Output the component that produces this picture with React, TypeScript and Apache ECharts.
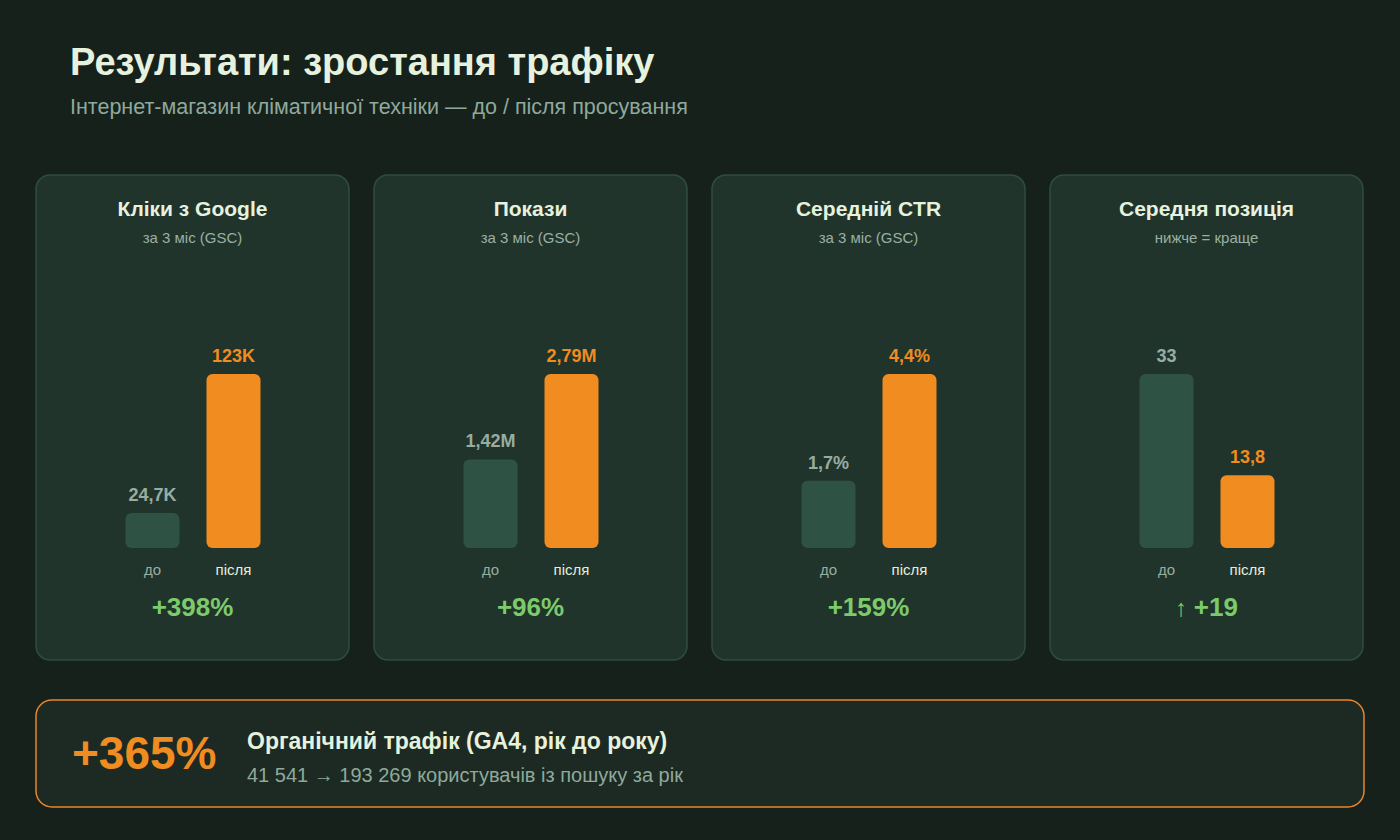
import React, { useEffect, useRef } from "react";
import * as echarts from "echarts";

const categories = ["до", "після"];
const cardTitles = ["Кліки з Google", "Покази", "Середній CTR", "Середня позиція"];
const cardSubtitles = ["за 3 міс (GSC)", "за 3 міс (GSC)", "за 3 міс (GSC)", "нижче = краще"];
const clicksK = [24.7, 123];
const impressionsM = [1.42, 2.79];
const ctrPct = [1.7, 4.4];
const avgPosition = [33, 13.8];
const seriesValues = [clicksK, impressionsM, ctrPct, avgPosition];
const valueLabels = [
  ["24,7K", "123K"],
  ["1,42M", "2,79M"],
  ["1,7%", "4,4%"],
  ["33", "13,8"],
];
const changeLabels = ["+398%", "+96%", "+159%", "+19"];

const FONT = "'Liberation Sans', Arial, sans-serif";
const BG = "#16211c";
const CARD_BG = "#21342b";
const CARD_BORDER = "#2f4c40";
const BEFORE = "#2e5244";
const AFTER = "#f08c20";
const GREEN = "#7ccb6a";

export default function App() {
  const ref = useRef<HTMLDivElement>(null);
  useEffect(() => {
    document.body.style.margin = "0";
    const chart = echarts.init(ref.current!, null, { renderer: "svg" });
    const cardX = [36, 374, 712, 1050];
    const cardW = 313;
    const grids: any[] = [];
    const xAxes: any[] = [];
    const yAxes: any[] = [];
    const series: any[] = [];
    const graphics: any[] = [
      { type: "rect", z: -10, shape: { x: 0, y: 0, width: 1400, height: 840 }, style: { fill: BG } },
      {
        type: "text", x: 70, y: 62,
        style: { text: "Результати: зростання трафіку", font: `bold 38px ${FONT}`, fill: "#e6f2de", textVerticalAlign: "middle" },
      },
      {
        type: "text", x: 70, y: 107,
        style: { text: "Інтернет-магазин кліматичної техніки — до / після просування", font: `21.5px ${FONT}`, fill: "#8fa99b", textVerticalAlign: "middle" },
      },
      {
        type: "rect", z: -5, shape: { x: 36, y: 700, width: 1328, height: 107, r: 16 },
        style: { fill: "#1c2a23", stroke: "#e8862a", lineWidth: 1.5 },
      },
      {
        type: "text", x: 72, y: 753,
        style: { text: "+365%", font: `bold 46px ${FONT}`, fill: AFTER, textVerticalAlign: "middle" },
      },
      {
        type: "text", x: 247, y: 741,
        style: { text: "Органічний трафік (GA4, рік до року)", font: `bold 23px ${FONT}`, fill: "#e6f2de", textVerticalAlign: "middle" },
      },
      {
        type: "text", x: 247, y: 775,
        style: { text: "41 541 → 193 269 користувачів із пошуку за рік", font: `20px ${FONT}`, fill: "#8fa99b", textVerticalAlign: "middle" },
      },
    ];

    cardX.forEach((cx, i) => {
      graphics.push({
        type: "rect", z: -5, shape: { x: cx, y: 175, width: cardW, height: 485, r: 14 },
        style: { fill: CARD_BG, stroke: CARD_BORDER, lineWidth: 1.5 },
      });
      graphics.push({
        type: "text", x: cx + cardW / 2, y: 208,
        style: { text: cardTitles[i], font: `bold 21px ${FONT}`, fill: "#e6f2de", textAlign: "center", textVerticalAlign: "middle" },
      });
      graphics.push({
        type: "text", x: cx + cardW / 2, y: 237,
        style: { text: cardSubtitles[i], font: `15px ${FONT}`, fill: "#9ab0a4", textAlign: "center", textVerticalAlign: "middle" },
      });
      const isPos = i === 3;
      graphics.push({
        type: "text", x: cx + cardW / 2, y: 607,
        style: {
          text: isPos ? `{a|↑}  {b|${changeLabels[i]}}` : `{b|${changeLabels[i]}}`,
          textAlign: "center", textVerticalAlign: "middle",
          rich: {
            a: { font: `24px ${FONT}`, fill: GREEN, fontSize: 24, color: GREEN },
            b: { font: `bold 26px ${FONT}`, fill: GREEN, fontSize: 26, fontWeight: "bold", color: GREEN },
          },
        },
      });

      grids.push({ left: cx + 76, top: 374, width: 162, height: 174 });
      xAxes.push({
        type: "category", gridIndex: i, data: categories,
        axisLine: { show: false }, axisTick: { show: false },
        axisLabel: {
          margin: 14, fontSize: 15, fontFamily: FONT,
          color: (v: string) => (v === "до" ? "#97ada1" : "#e2eedc"),
        },
      });
      const vals = seriesValues[i];
      yAxes.push({ type: "value", gridIndex: i, min: 0, max: Math.max(...vals), show: false, splitLine: { show: false } });
      series.push({
        type: "bar", xAxisIndex: i, yAxisIndex: i, barWidth: 54,
        data: vals.map((v, j) => ({
          value: v,
          itemStyle: { color: j === 0 ? BEFORE : AFTER, borderRadius: 6 },
          label: {
            show: true, position: "top", distance: 9,
            formatter: valueLabels[i][j],
            color: j === 0 ? "#97ada1" : AFTER,
            fontSize: 18, fontWeight: "bold", fontFamily: FONT,
          },
        })),
      });
    });

    chart.setOption({
      animation: false,
      backgroundColor: BG,
      grid: grids,
      xAxis: xAxes,
      yAxis: yAxes,
      series,
      graphic: graphics,
    });
    return () => chart.dispose();
  }, []);
  return <div ref={ref} style={{ width: 1400, height: 840 }} />;
}
